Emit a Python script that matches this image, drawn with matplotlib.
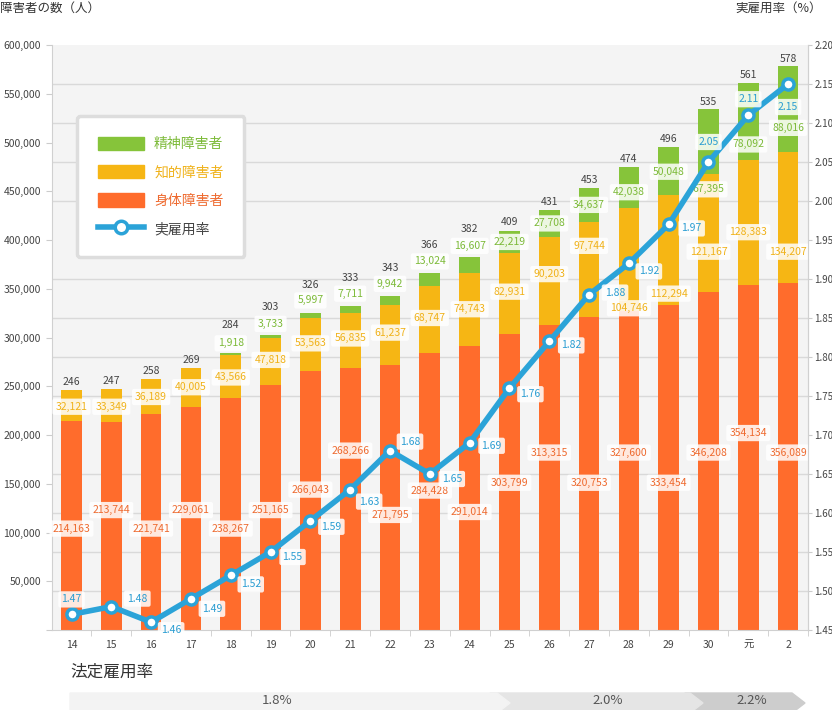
import matplotlib
matplotlib.use('Agg')
import matplotlib.pyplot as plt
from matplotlib.patches import Patch, Polygon
from matplotlib.lines import Line2D
from matplotlib.ticker import MultipleLocator, FuncFormatter

plt.rcParams['font.family'] = ['Noto Sans CJK JP', 'DejaVu Sans']

# data
years = ['14', '15', '16', '17', '18', '19', '20', '21', '22', '23', '24',
         '25', '26', '27', '28', '29', '30', '元', '2']
shintai = [214163, 213744, 221741, 229061, 238267, 251165, 266043, 268266, 271795, 284428,
           291014, 303799, 313315, 320753, 327600, 333454, 346208, 354134, 356089]
chiteki = [32121, 33349, 36189, 40005, 43566, 47818, 53563, 56835, 61237, 68747,
           74743, 82931, 90203, 97744, 104746, 112294, 121167, 128383, 134207]
seishin = [0, 0, 0, 0, 1918, 3733, 5997, 7711, 9942, 13024,
           16607, 22219, 27708, 34637, 42038, 50048, 67395, 78092, 88016]
totals = [246, 247, 258, 269, 284, 303, 326, 333, 343, 366,
          382, 409, 431, 453, 474, 496, 535, 561, 578]
rate = [1.47, 1.48, 1.46, 1.49, 1.52, 1.55, 1.59, 1.63, 1.68, 1.65,
        1.69, 1.76, 1.82, 1.88, 1.92, 1.97, 2.05, 2.11, 2.15]
legal = ['1.8%', '2.0%', '2.2%']

# label placement (thousands of people), as laid out in the original
orange_lab_k = [104, 123, 104, 123, 104, 123, 144, 184, 118, 143,
                121, 151, 182, 151, 182, 151, 182, 202, 182]
yellow_lab_k = [229, 229, 239, 249, 259, 277, 294, 299, 305, 320,
                329, 347, 365, 394, 330, 345, 388, 408, 388]
green_lab_k = [None, None, None, None, 294, 314, 338, 345, 355, 378,
               394, 398, 417, 436, 449, 470, 452, 498, 515]
# gap above the bar top for the totals, pixels
total_off = [8, 8, 8, 8, 28, 28, 28, 28, 28, 28, 28, 9, 8, 8, 8, 8, 7, 8, 7]
# offsets of the rate labels in pixels (dx, dy down)
rate_lab_off = [(0, -15), (26, -8), (20, 8), (21, 10), (20, 9), (22, 5), (21, 6),
                (19, 12), (20, -9), (22, 5), (22, 3), (21, 6), (22, 4), (26, -2),
                (20, 8), (23, 4), (0, -20), (0, -16), (0, 23)]

c_or = '#ff6c2c'
c_ye = '#f6b614'
c_gr = '#86c43a'
c_bl = '#2ba3d8'
t_or = '#ee6a2f'
t_ye = '#f0b21a'
t_gr = '#7cba38'
t_bl = '#2a9dd2'

fig = plt.figure(figsize=(8.32, 7.10), dpi=100)
W, H = 832, 710
ax = fig.add_axes([52 / W, 1 - 630 / H, (808 - 52) / W, (630 - 45) / H])
ax.set_facecolor('#f4f4f4')

x = list(range(len(years)))
bottom2 = [a + b for a, b in zip(shintai, chiteki)]
ax.bar(x, shintai, width=0.52, color=c_or, zorder=2)
ax.bar(x, chiteki, width=0.52, bottom=shintai, color=c_ye, zorder=2)
ax.bar(x, seishin, width=0.52, bottom=bottom2, color=c_gr, zorder=2)

ax.set_xlim(-0.49, 18.37)
ax.set_ylim(0, 600000)

box = dict(boxstyle='round,pad=0.3,rounding_size=0.2', fc='white', ec='none', alpha=0.85)
fs = 7.5
for i in x:
    ax.text(i, orange_lab_k[i] * 1000, f'{shintai[i]:,}', ha='center', va='center',
            fontsize=fs, color=t_or, bbox=box, zorder=4)
    ax.text(i, yellow_lab_k[i] * 1000, f'{chiteki[i]:,}', ha='center', va='center',
            fontsize=fs, color=t_ye, bbox=box, zorder=4)
    if green_lab_k[i] is not None:
        ax.text(i, green_lab_k[i] * 1000, f'{seishin[i]:,}', ha='center', va='center',
                fontsize=fs, color=t_gr, bbox=box, zorder=4)
    top = shintai[i] + chiteki[i] + seishin[i]
    ax.annotate(str(totals[i]), (i, top), xytext=(0, total_off[i]), textcoords='offset pixels',
                ha='center', va='center', fontsize=fs, color='#444444', zorder=4)

# grid follows the right axis steps (0.05 -> 40,000)
ax.yaxis.set_major_locator(MultipleLocator(50000))
ax.yaxis.set_minor_locator(MultipleLocator(40000))
ax.grid(which='minor', axis='y', color='#d9d9d9', lw=1, zorder=1)
ax.yaxis.set_major_formatter(FuncFormatter(lambda v, p: '' if v == 0 else f'{int(v):,}'))
ax.tick_params(axis='y', which='major', length=4, color='#cccccc', labelsize=7.5,
               labelcolor='#444444', pad=4)
ax.tick_params(axis='y', which='minor', length=0)
ax.set_xticks(x)
ax.set_xticklabels(years)
ax.set_xticks([i + 0.5 for i in x], minor=True)
ax.tick_params(axis='x', which='major', length=0, labelsize=7.5, labelcolor='#444444', pad=7)
ax.tick_params(axis='x', which='minor', length=4, color='#cccccc')
for s in ax.spines.values():
    s.set_color('#d0d0d0')
ax.spines['top'].set_visible(False)

ax2 = ax.twinx()
ax2.set_ylim(1.45, 2.20)
ax2.yaxis.set_major_locator(MultipleLocator(0.05))
ax2.yaxis.set_major_formatter(FuncFormatter(lambda v, p: f'{v:.2f}'))
ax2.tick_params(axis='y', length=3, color='#cccccc', labelsize=7, labelcolor='#444444', pad=1.5)
for s in ax2.spines.values():
    s.set_visible(False)
ax2.spines['right'].set_visible(True)
ax2.spines['right'].set_color('#d0d0d0')
ax2.plot(x, rate, color=c_bl, lw=4, marker='o', ms=8, mfc='white', mec=c_bl, mew=2.5,
         zorder=3, clip_on=False)
for i in x:
    dx, dy = rate_lab_off[i]
    ax2.annotate(f'{rate[i]:.2f}', (i, rate[i]), xytext=(dx, -dy), textcoords='offset pixels',
                 ha='center', va='center', fontsize=fs, color=t_bl, bbox=box, zorder=5)

# legend
handles = [Patch(color=c_gr), Patch(color=c_ye), Patch(color=c_or),
           Line2D([], [], color=c_bl, lw=4, marker='o', ms=9, mfc='white', mec=c_bl, mew=2.5)]
labels = ['精神障害者', '知的障害者', '身体障害者', '実雇用率']
leg = ax2.legend(handles, labels, loc='upper left', bbox_to_anchor=(77 / W, 1 - 116 / H),
                 bbox_transform=fig.transFigure, borderaxespad=0, fontsize=10,
                 handlelength=3.3, handleheight=1.1, labelspacing=1.0, borderpad=1.5,
                 handletextpad=0.75, fancybox=True, framealpha=1, edgecolor='#dddddd')
leg.get_frame().set_linewidth(2.5)
for t, c in zip(leg.get_texts(), [t_gr, t_ye, t_or, '#444444']):
    t.set_color(c)

# titles
fig.text(0 / W, 1 - 8 / H, '障害者の数（人）', ha='left', va='center', fontsize=9, color='#333333')
fig.text(822 / W, 1 - 8 / H, '実雇用率（%）', ha='right', va='center', fontsize=9, color='#333333')

# legal rate bands
bg = fig.add_axes([0, 0, 1, 1], zorder=-1)
bg.set_xlim(0, W)
bg.set_ylim(H, 0)
bg.axis('off')
y0, y1 = 693, 713
ym = (y0 + y1) / 2
bg.add_patch(Polygon([(685, y0), (792, y0), (805, ym), (792, y1), (685, y1)], color='#cdcdcd'))
bg.add_patch(Polygon([(490, y0), (690, y0), (703, ym), (690, y1), (490, y1)], color='#e5e5e5'))
bg.add_patch(Polygon([(70, y0), (497, y0), (510, ym), (497, y1), (70, y1)], color='#f3f3f3'))
for xc, lab in zip([277, 608, 752], legal):
    bg.text(xc, 701, lab, ha='center', va='center', fontsize=9.5, color='#555555')
bg.text(70, 672, '法定雇用率', ha='left', va='center', fontsize=12, color='#333333')

fig.savefig('out.png', dpi=100)
